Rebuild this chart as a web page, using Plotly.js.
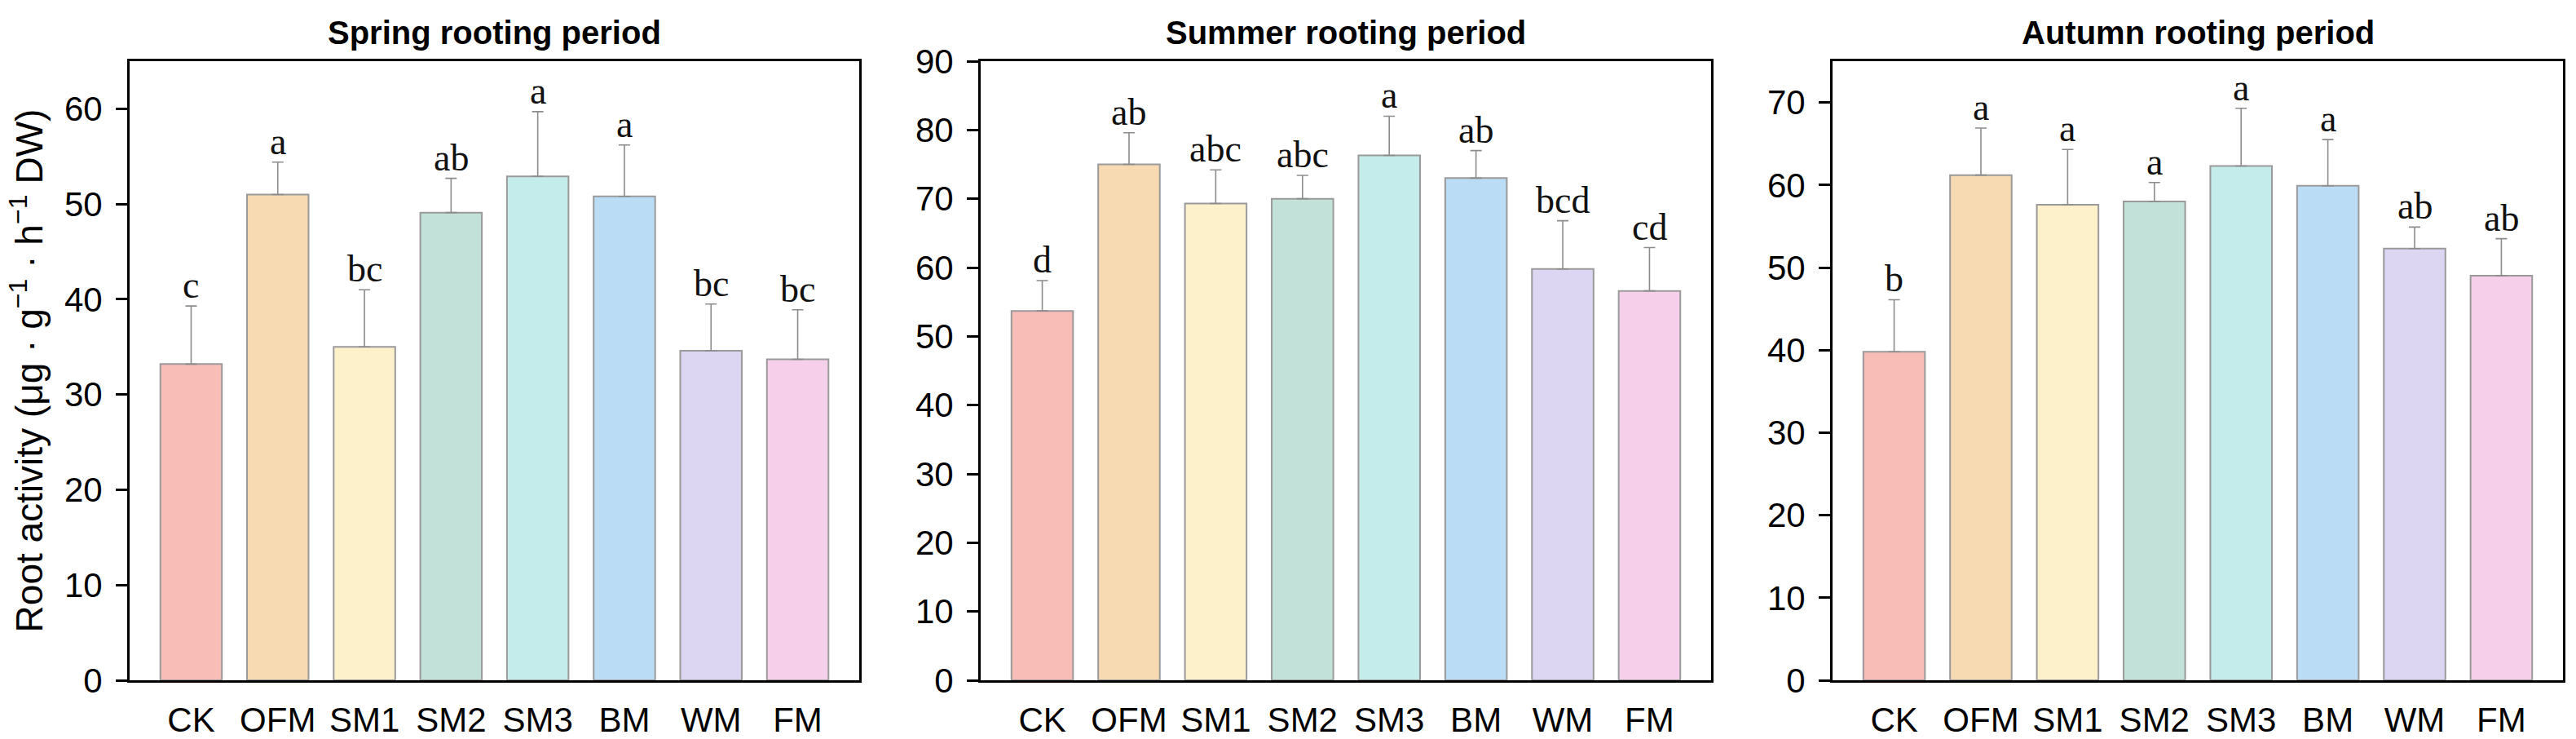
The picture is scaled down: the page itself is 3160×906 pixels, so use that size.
<!DOCTYPE html>
<html>
<head>
<meta charset="utf-8">
<script src="https://cdn.plot.ly/plotly-3.0.1.min.js"></script>
<style>
  html, body { margin: 0; padding: 0; background: #fff; }
  #chart { width: 3160px; height: 906px; }
</style>
</head>
<body>
<div id="chart"></div>
<script>
const categories = ['CK', 'OFM', 'SM1', 'SM2', 'SM3', 'BM', 'WM', 'FM'];
const barColors = ['#F9BDB8', '#F7D9B2', '#FDF1CC', '#C1E1D9', '#C4ECEA', '#BADCF4', '#DCD6F3', '#F6D0EB'];

const springMean = [33.2, 51.0, 35.0, 49.1, 52.9, 50.8, 34.6, 33.7];
const springErr = [6.1, 3.4, 6.0, 3.6, 6.8, 5.4, 4.9, 5.2];
const springLetters = ['c', 'a', 'bc', 'ab', 'a', 'a', 'bc', 'bc'];

const summerMean = [53.7, 75.0, 69.3, 70.0, 76.3, 73.0, 59.8, 56.6];
const summerErr = [4.4, 4.6, 4.9, 3.4, 5.7, 4.0, 7.0, 6.3];
const summerLetters = ['d', 'ab', 'abc', 'abc', 'a', 'ab', 'bcd', 'cd'];

const autumnMean = [39.8, 61.2, 57.6, 58.0, 62.3, 59.9, 52.3, 49.0];
const autumnErr = [6.3, 5.7, 6.7, 2.3, 7.0, 5.6, 2.6, 4.5];
const autumnLetters = ['b', 'a', 'a', 'a', 'a', 'a', 'ab', 'ab'];

const panelTitles = ['Spring rooting period', 'Summer rooting period', 'Autumn rooting period'];
const yMax = [65, 90, 75];

const W = 3160, H = 906;
// pixel boxes of the three panels
const boxes = [[159, 1054], [1203, 2099], [2248, 3144]];
const boxTop = 75, boxBottom = 834;

const panels = [
  { mean: springMean, err: springErr, letters: springLetters },
  { mean: summerMean, err: summerErr, letters: summerLetters },
  { mean: autumnMean, err: autumnErr, letters: autumnLetters }
];

const sansFont = 'Liberation Sans, Arial, sans-serif';
const serifFont = 'Liberation Serif, Times New Roman, serif';

const traces = [];
const annotations = [];
const layout = {
  width: W,
  height: H,
  margin: { l: 0, r: 0, t: 0, b: 0 },
  paper_bgcolor: '#fff',
  plot_bgcolor: '#fff',
  showlegend: false,
  font: { family: sansFont, size: 42, color: '#000' }
};

panels.forEach((p, i) => {
  const n = i === 0 ? '' : String(i + 1);
  const xa = 'x' + n, ya = 'y' + n;

  traces.push({
    type: 'bar',
    x: categories,
    y: p.mean,
    xaxis: xa,
    yaxis: ya,
    width: 0.71,
    marker: { color: barColors, line: { color: '#9a9a9a', width: 2 } },
    error_y: {
      type: 'data',
      symmetric: false,
      array: p.err,
      arrayminus: p.err.map(() => 0),
      color: '#8c8c8c',
      thickness: 1.6,
      width: 7
    },
    hoverinfo: 'skip'
  });

  const [x0, x1] = boxes[i];
  layout['xaxis' + n] = {
    domain: [x0 / W, x1 / W],
    anchor: ya,
    range: [-0.71, 7.71],
    showline: true,
    mirror: true,
    linecolor: '#000',
    linewidth: 3,
    ticks: '',
    showgrid: false,
    zeroline: false,
    tickfont: { family: sansFont, size: 42, color: '#000' },
    ticklabelstandoff: 10,
    fixedrange: true
  };
  layout['yaxis' + n] = {
    domain: [(H - boxBottom) / H, (H - boxTop) / H],
    anchor: xa,
    range: [0, yMax[i]],
    dtick: 10,
    showline: true,
    mirror: true,
    linecolor: '#000',
    linewidth: 3,
    ticks: 'outside',
    ticklen: 14,
    tickwidth: 3,
    tickcolor: '#000',
    showgrid: false,
    zeroline: false,
    tickfont: { family: sansFont, size: 42, color: '#000' },
    ticklabelstandoff: 8,
    fixedrange: true
  };
  if (i === 0) {
    layout.yaxis.title = {
      text: 'Root activity (μg · g<sup>−1</sup> · h<sup>−1</sup> DW)',
      font: { family: sansFont, size: 46, color: '#000' },
      standoff: 12
    };
  }

  annotations.push({
    xref: 'paper', yref: 'paper',
    x: (x0 + x1) / 2 / W,
    y: (H - 40) / H,
    xanchor: 'center', yanchor: 'middle',
    text: '<b>' + panelTitles[i] + '</b>',
    showarrow: false,
    font: { family: sansFont, size: 40, color: '#000' }
  });

  categories.forEach((c, k) => {
    annotations.push({
      xref: xa, yref: ya,
      x: c,
      y: p.mean[k] + p.err[k],
      xanchor: 'center', yanchor: 'bottom',
      yshift: -2,
      text: p.letters[k],
      showarrow: false,
      font: { family: serifFont, size: 46, color: '#111' }
    });
  });
});

layout.annotations = annotations;

Plotly.newPlot('chart', traces, layout, { displayModeBar: false, staticPlot: true });
</script>
</body>
</html>
